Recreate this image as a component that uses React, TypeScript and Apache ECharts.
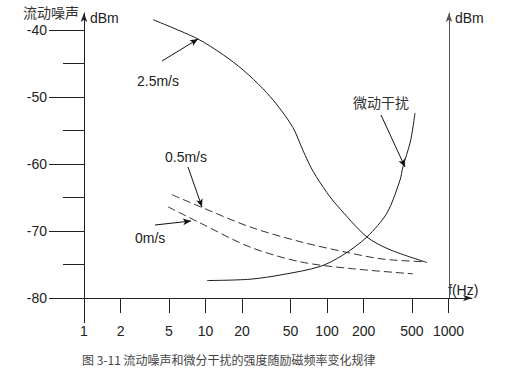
import React, { useEffect, useRef } from 'react';
import * as echarts from 'echarts';

// ---- data (frequency in Hz, level in dBm) ----
const xTickFreqs = [1, 2, 5, 10, 20, 50, 100, 200, 500, 1000];
const yMajorTicks = [-80, -70, -60, -50, -40];
const yMinorTicks = [-75, -65, -55, -45];

const freq25 = [3.7, 8.5, 13.9, 20.4, 29.7, 38.8, 52.5, 63.4, 76.7, 100, 121, 213, 330, 665];
const db25 = [-38.5, -41.3, -43.7, -46.0, -48.8, -51.2, -54.6, -58.0, -61.1, -64.3, -66.2, -70.9, -72.8, -74.7];

const freq05 = [5.3, 9.36, 23.2, 60, 155, 289, 641];
const db05 = [-64.6, -66.5, -69.4, -71.6, -73.3, -74.2, -74.6];

const freq0 = [4.91, 9.01, 23.2, 60, 155, 510];
const db0 = [-66.4, -68.8, -72.4, -74.6, -75.6, -76.4];

const freqMicro = [10.3, 23.2, 43.4, 87.6, 135, 213, 312, 399, 422, 482, 510, 530];
const dbMicro = [-77.4, -77.2, -76.5, -75.3, -73.6, -70.9, -67.3, -62.4, -60.4, -56.9, -54.5, -52.4];

const lg = (f: number) => Math.log10(f);
const toPts = (fs: number[], ds: number[]) => fs.map((f, i) => [lg(f), ds[i]]);

const LATIN = '"Liberation Sans", Arial, sans-serif';
const CJK = '"Noto Sans CJK SC", sans-serif';

export default function App() {
  const ref = useRef<HTMLDivElement>(null);
  useEffect(() => {
    const chart = echarts.init(ref.current!, null, { renderer: 'svg' });
    const axisColor = '#222';
    const lineStyle = { color: '#1a1a1a', width: 1 };
    const txt = (text: string, x: number, y: number, font: string, fill = '#222') => ({
      type: 'text',
      x,
      y,
      silent: true,
      style: { text, font, fill, align: 'left', verticalAlign: 'middle' },
    });
    const curve = { type: 'line', showSymbol: false, symbol: 'none', smooth: 0.3 };
    chart.setOption({
      animation: false,
      backgroundColor: '#fff',
      grid: { left: 84, top: 13, right: 34, bottom: 71, containLabel: false },
      xAxis: [
        {
          type: 'value',
          min: 0,
          max: lg(1560),
          axisLine: { show: true, symbol: ['none', 'arrow'], symbolSize: [5, 9], lineStyle: { color: axisColor, width: 1 } },
          axisTick: { show: true, customValues: xTickFreqs.map(lg), length: 15, lineStyle: { color: axisColor, width: 1 } },
          axisLabel: {
            show: true,
            customValues: xTickFreqs.map(lg),
            formatter: (v: number) => String(Math.round(Math.pow(10, v))),
            margin: 26,
            fontSize: 14,
            fontFamily: LATIN,
            color: axisColor,
          },
          splitLine: { show: false },
        },
        {
          type: 'value',
          min: 0,
          max: lg(1560),
          position: 'bottom',
          axisLine: { show: false },
          axisTick: { show: true, customValues: [lg(1)], length: 25, lineStyle: { color: axisColor, width: 1 } },
          axisLabel: { show: false },
          splitLine: { show: false },
        },
      ],
      yAxis: [
        {
          type: 'value',
          min: -80,
          max: -37.5,
          position: 'left',
          axisLine: { show: true, symbol: ['none', 'arrow'], symbolSize: [5, 9], lineStyle: { color: axisColor, width: 1 } },
          axisTick: { show: true, customValues: yMajorTicks, length: 35, lineStyle: { color: axisColor, width: 1 } },
          axisLabel: { show: true, customValues: yMajorTicks, margin: 37, fontSize: 14, fontFamily: LATIN, color: axisColor },
          splitLine: { show: false },
        },
        {
          type: 'value',
          min: -80,
          max: -37.5,
          position: 'left',
          offset: 0,
          axisLine: { show: false },
          axisTick: { show: true, customValues: yMinorTicks, length: 21, lineStyle: { color: axisColor, width: 1 } },
          axisLabel: { show: false },
          splitLine: { show: false },
        },
        {
          type: 'value',
          min: -80,
          max: -37.5,
          position: 'right',
          offset: -23,
          axisLine: { show: true, symbol: ['none', 'arrow'], symbolSize: [5, 9], lineStyle: { color: '#555', width: 1 } },
          axisTick: { show: false },
          axisLabel: { show: false },
          splitLine: { show: false },
        },
      ],
      series: [
        { ...curve, name: '2.5m/s', data: toPts(freq25, db25), lineStyle: { ...lineStyle } },
        { ...curve, name: '0.5m/s', data: toPts(freq05, db05), lineStyle: { color: '#333', width: 1, type: [8, 4] } },
        { ...curve, name: '0m/s', data: toPts(freq0, db0), lineStyle: { color: '#333', width: 1, type: [8, 4] } },
        {
          ...curve,
          name: '微动干扰',
          data: toPts(freqMicro, dbMicro),
          lineStyle: { ...lineStyle },
          markLine: {
            silent: true,
            symbol: ['none', 'arrow'],
            symbolSize: [5, 8],
            label: { show: false },
            lineStyle: { color: '#111', width: 1, type: 'solid' },
            data: [
              [{ x: 162, y: 61 }, { x: 198, y: 39 }],
              [{ x: 188, y: 167 }, { x: 202, y: 207 }],
              [{ x: 155, y: 225 }, { x: 191, y: 221 }],
              [{ x: 381, y: 115 }, { x: 405, y: 167 }],
            ],
          },
        },
      ],
      graphic: [
        txt('流动噪声', 23, 12, `14px ${CJK}`, '#333'),
        txt('dBm', 90, 18, `14px ${LATIN}`),
        txt('dBm', 455, 18, `14px ${LATIN}`),
        txt('f(Hz)', 448, 290, `14px ${LATIN}`),
        txt('2.5m/s', 137, 81, `14px ${LATIN}`),
        txt('0.5m/s', 165, 157, `14px ${LATIN}`),
        txt('0m/s', 135, 238, `14px ${LATIN}`),
        txt('微动干扰', 353, 102, `14px ${CJK}`, '#333'),
        txt('图 3-11 流动噪声和微分干扰的强度随励磁频率变化规律', 82, 359, `12px ${CJK}`, '#444'),
      ],
    });
    return () => chart.dispose();
  }, []);
  return (
    <div
      ref={ref}
      style={{ position: 'fixed', left: 0, top: 0, width: 506, height: 369, background: '#fff' }}
    />
  );
}
